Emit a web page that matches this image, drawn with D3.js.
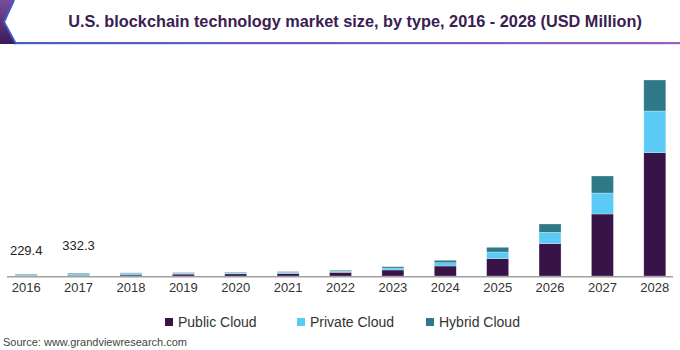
<!DOCTYPE html>
<html>
<head>
<meta charset="utf-8">
<script src="https://cdn.jsdelivr.net/npm/d3@7"></script>
<style>
  html, body { margin: 0; padding: 0; background: #fff; }
  svg { display: block; font-family: "Liberation Sans", Arial, sans-serif; }
</style>
</head>
<body>
<svg id="chart" width="680" height="350"></svg>
<script>
const years = ["2016","2017","2018","2019","2020","2021","2022","2023","2024","2025","2026","2027","2028"];
const publicCloud  = [60, 90, 120, 220, 250, 290, 425, 690, 1150, 1990, 3715, 7130, 14180];
const privateCloud = [100, 150, 170, 100, 110, 125, 115, 230, 380, 770, 1311, 2415, 4795];
const hybridCloud  = [69.4, 92.3, 70, 70, 80, 85, 110, 150, 275, 540, 955, 1955, 3565];
const seriesNames = ["Public Cloud", "Private Cloud", "Hybrid Cloud"];
const seriesColors = ["#381347", "#5bcbf5", "#2f7888"];
const valueLabels = [{year: "2016", text: "229.4", dy: 19}, {year: "2017", text: "332.3", dy: 23}];
const titleText = "U.S. blockchain technology market size, by type, 2016 - 2028 (USD Million)";
const sourceText = "Source: www.grandviewresearch.com";

const svg = d3.select("#chart");
const defs = svg.append("defs");

// Header decoration
const lg = defs.append("linearGradient").attr("id", "hline").attr("x1", "0").attr("x2", "1");
lg.append("stop").attr("offset", "0").attr("stop-color", "#4560b8");
lg.append("stop").attr("offset", "1").attr("stop-color", "#9a5cc0");
const pg = defs.append("linearGradient").attr("id", "chev").attr("x1", "0").attr("x2", "0").attr("y1", "0").attr("y2", "1");
pg.append("stop").attr("offset", "0").attr("stop-color", "#7b4c9e");
pg.append("stop").attr("offset", "1").attr("stop-color", "#3a1a58");

svg.append("rect").attr("x", 14).attr("y", 42).attr("width", 666).attr("height", 2.2).attr("fill", "url(#hline)");
svg.append("path").attr("d", "M0,0 L14,0 L4,22 L16,44 L0,44 Z").attr("fill", "url(#chev)");
svg.append("path").attr("d", "M14,0 L4,22 L16,44").attr("fill", "none").attr("stroke", "#3f5cc0").attr("stroke-width", 2);

svg.append("text").attr("x", 355).attr("y", 27).attr("text-anchor", "middle")
  .attr("font-size", 16.3).attr("font-weight", "bold").attr("fill", "#3a2052")
  .text(titleText);

// Scales
const baseY = 276;
const x = d3.scaleBand().domain(years).range([0, 681]).paddingInner(0.58).paddingOuter(0.29);
const totals = years.map((_, i) => publicCloud[i] + privateCloud[i] + hybridCloud[i]);
const y = d3.scaleLinear().domain([0, d3.max(totals)]).range([baseY, 80]);

const table = years.map((yr, i) => ({year: yr, "Public Cloud": publicCloud[i], "Private Cloud": privateCloud[i], "Hybrid Cloud": hybridCloud[i]}));
const stack = d3.stack().keys(seriesNames)(table);

svg.append("g").selectAll("g").data(stack).join("g")
  .attr("fill", (d, i) => seriesColors[i])
  .selectAll("rect").data(d => d).join("rect")
  .attr("x", d => x(d.data.year))
  .attr("width", x.bandwidth())
  .attr("y", d => y(d[1]))
  .attr("height", d => y(d[0]) - y(d[1]))
  .attr("stroke", "rgba(255,255,255,0.45)")
  .attr("stroke-width", 0.6);

// Axis
const xAxis = d3.axisBottom(x).tickSize(0).tickPadding(7);
const ax = svg.append("g").attr("transform", `translate(0,${baseY})`).call(xAxis);
ax.select(".domain").remove();
ax.selectAll("text").attr("font-size", 13).attr("fill", "#333").attr("font-family", "Liberation Sans, Arial, sans-serif");
svg.append("line").attr("x1", 7).attr("x2", 673).attr("y1", baseY + 0.75).attr("y2", baseY + 0.75)
  .attr("stroke", "#a0a0a0").attr("stroke-width", 1.5);

// Value labels
svg.append("g").selectAll("text").data(valueLabels).join("text")
  .attr("x", d => x(d.year) + x.bandwidth() / 2)
  .attr("y", d => y(totals[years.indexOf(d.year)]) - d.dy)
  .attr("text-anchor", "middle").attr("font-size", 13).attr("fill", "#222")
  .text(d => d.text);

// Legend
const legendX = [165, 297, 426];
const lgG = svg.append("g").selectAll("g").data(seriesNames).join("g")
  .attr("transform", (d, i) => `translate(${legendX[i]},318)`);
lgG.append("rect").attr("width", 8).attr("height", 8).attr("fill", (d, i) => seriesColors[i]);
lgG.append("text").attr("x", 13).attr("y", 9).attr("font-size", 14).attr("fill", "#333").text(d => d);

svg.append("text").attr("x", 3).attr("y", 346).attr("font-size", 11).attr("fill", "#444").text(sourceText);
</script>
</body>
</html>
